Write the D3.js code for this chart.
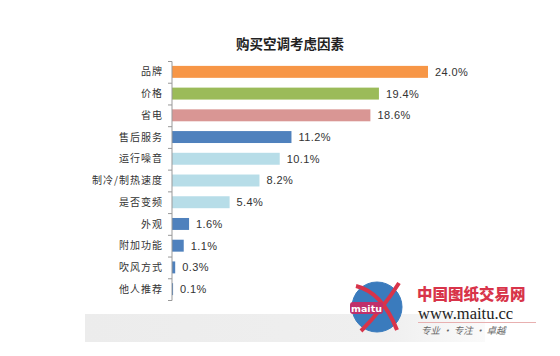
<!DOCTYPE html>
<html><head><meta charset="utf-8">
<script src="https://cdn.jsdelivr.net/npm/d3@7"></script>
<style>body{margin:0;background:#fff}svg{display:block}</style>
</head><body><svg id="c" width="560" height="356"></svg>
<script>
const title = "购买空调考虑因素";
const categories = ["品牌","价格","省电","售后服务","运行噪音","制冷/制热速度","是否变频","外观","附加功能","吹风方式","他人推荐"];
const values = [24.0,19.4,18.6,11.2,10.1,8.2,5.4,1.6,1.1,0.3,0.1];
const colors = ["#F79646","#9BBB59","#D99694","#4F81BD","#B7DDE8","#B7DDE8","#B7DDE8","#4F81BD","#4F81BD","#4F81BD","#4F81BD"];

const svg = d3.select("#c");
const defs = svg.append("defs");
const g1 = defs.append("linearGradient").attr("id","band").attr("x1","0").attr("x2","1");
g1.append("stop").attr("offset","0").attr("stop-color","#ececec");
g1.append("stop").attr("offset","0.75").attr("stop-color","#efefef");
g1.append("stop").attr("offset","1").attr("stop-color","#fafafa");
svg.append("rect").attr("x",85).attr("y",314).attr("width",400).attr("height",28).attr("fill","url(#band)");

const x = d3.scaleLinear().domain([0,24]).range([172,428]);
const y = d3.scaleBand().domain(categories).range([61,300]).paddingInner(0.45).paddingOuter(0.225);

svg.append("text").attr("x",290).attr("y",49).attr("text-anchor","middle")
  .attr("font-family","'Noto Sans CJK SC',sans-serif").attr("font-weight","bold").attr("font-size",13.5)
  .attr("fill","#222").text(title);

svg.selectAll("rect.bar").data(categories).enter().append("rect").attr("class","bar")
  .attr("x",x(0)).attr("y",d=>y(d)).attr("height",y.bandwidth())
  .attr("width",(d,i)=>Math.max(0,x(values[i])-x(0))).attr("fill",(d,i)=>colors[i]);

const axis = d3.axisLeft(d3.scaleBand().domain(categories).range([61,300])).tickSize(0).tickFormat("");
const ax = svg.append("g").attr("transform",`translate(${x(0)-0.5},0)`).call(axis);
ax.select(".domain").attr("stroke","#999");
const bounds = d3.range(categories.length+1).map(i=>61+i*(300-61)/categories.length);
svg.selectAll("line.tk").data(bounds).enter().append("line").attr("class","tk")
  .attr("x1",x(0)-4).attr("x2",x(0)).attr("y1",d=>d+0.5).attr("y2",d=>d+0.5).attr("stroke","#999");

svg.selectAll("text.cat").data(categories).enter().append("text").attr("class","cat")
  .attr("x",163).attr("y",d=>y(d)+y.bandwidth()/2).attr("dy","0.36em").attr("text-anchor","end")
  .attr("font-family","'Noto Sans CJK SC',sans-serif").attr("font-size",10).attr("letter-spacing",1)
  .attr("fill","#333").text(d=>d);

svg.selectAll("text.val").data(categories).enter().append("text").attr("class","val")
  .attr("x",(d,i)=>x(values[i])+7).attr("y",d=>y(d)+y.bandwidth()/2).attr("dy","0.36em")
  .attr("font-family","Arial,'Liberation Sans',sans-serif").attr("font-size",11).attr("letter-spacing",0.4)
  .attr("fill","#333").text((d,i)=>values[i].toFixed(1)+"%");

// watermark logo
const wm = svg.append("g");
wm.append("circle").attr("cx",377).attr("cy",307).attr("r",25).attr("fill","#3a7bbd").attr("stroke","#3a7bbd");
wm.append("path").attr("d","M356,286 Q382,292 397,330 M399,283 Q382,310 361,331")
  .attr("stroke","#d8344a").attr("stroke-width",4).attr("fill","none");
wm.append("rect").attr("x",350).attr("y",302).attr("width",33).attr("height",12).attr("rx",3).attr("fill","#c0306a");
wm.append("text").attr("x",366.5).attr("y",311.5).attr("text-anchor","middle").attr("font-family","'DejaVu Sans',sans-serif")
  .attr("font-weight","bold").attr("font-size",9.5).attr("fill","#fff").text("maitu");
wm.append("text").attr("x",417).attr("y",300).attr("font-family","'Noto Sans CJK SC',sans-serif").attr("font-weight","900")
  .attr("font-size",15.5).attr("fill","#d8344a").text("中国图纸交易网");
wm.append("text").attr("x",418).attr("y",319).attr("font-family","'Liberation Serif',serif")
  .attr("font-size",16.5).attr("fill","#222").text("www.maitu.cc");
wm.append("line").attr("x1",418).attr("x2",536).attr("y1",322.5).attr("y2",322.5).attr("stroke","#e8b0b0");
wm.append("text").attr("x",421).attr("y",334).attr("font-family","'Noto Sans CJK SC',sans-serif").attr("font-style","italic")
  .attr("font-size",9.5).attr("fill","#666").text("专业 · 专注 · 卓越");
</script></body></html>
